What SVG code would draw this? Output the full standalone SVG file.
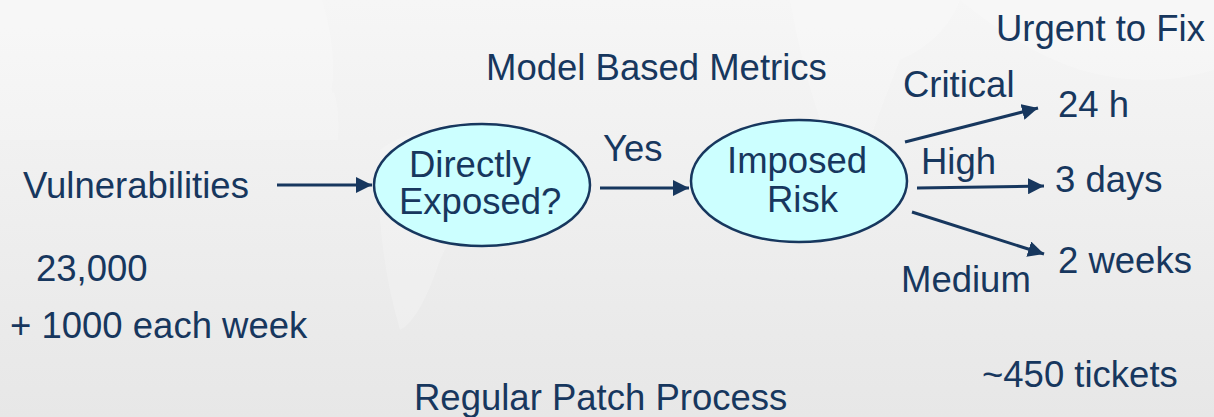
<svg xmlns="http://www.w3.org/2000/svg" width="1214" height="417" viewBox="0 0 1214 417">
  <defs>
    <linearGradient id="bg" x1="0" y1="0" x2="0" y2="1">
      <stop offset="0" stop-color="#f6f6f6"/>
      <stop offset="1" stop-color="#e7e7e7"/>
    </linearGradient>
    <marker id="arrow" viewBox="0 0 16 16" refX="16" refY="8" markerWidth="16" markerHeight="16" markerUnits="userSpaceOnUse" orient="auto">
      <path d="M0,0 L16,8 L0,16 Z" fill="#17375e"/>
    </marker>
    <style>
      text { font-family: "Liberation Sans", Arial, sans-serif; font-size: 36.5px; fill: #17375e; }
      .node ellipse { fill: #ccffff; stroke: #17375e; stroke-width: 2.5; }
      .edge { stroke: #17375e; stroke-width: 3; fill: none; marker-end: url(#arrow); }
      .land { fill: #ffffff; opacity: 0.2; }
    </style>
  </defs>

  <!-- backdrop with faint world map -->
  <rect x="0" y="0" width="1214" height="417" fill="url(#bg)"/>
  <g id="map">
    <path class="land" d="M0,0 L322,0 Q335,40 333,80 Q330,95 334,92 Q340,110 338,140 L0,140 Z"/>
    <path class="land" d="M380,150 Q420,120 460,140 Q470,200 440,260 Q420,320 400,330 Q385,280 380,220 Z"/>
    <path class="land" d="M790,0 L960,0 Q945,40 900,60 Q880,110 870,140 Q840,150 820,120 Q800,60 790,0 Z"/>
    <path class="land" d="M960,0 L1214,0 L1214,70 Q1150,90 1080,70 Q1020,50 960,0 Z"/>
  </g>

  <!-- connectors -->
  <g id="connectors">
    <line class="edge" x1="277" y1="185" x2="372" y2="185"/>
    <line class="edge" x1="600" y1="188" x2="689" y2="188"/>
    <line class="edge" x1="905" y1="142" x2="1038" y2="108"/>
    <line class="edge" x1="917" y1="188" x2="1044" y2="186"/>
    <line class="edge" x1="912" y1="212" x2="1044" y2="254"/>
  </g>

  <!-- nodes -->
  <g id="node-exposed" class="node">
    <ellipse cx="482" cy="185" rx="108" ry="61"/>
    <text x="409" y="177">Directly</text>
    <text x="399" y="214">Exposed?</text>
  </g>
  <g id="node-risk" class="node">
    <ellipse cx="799" cy="181" rx="108" ry="61"/>
    <text x="727" y="173">Imposed</text>
    <text x="767" y="212">Risk</text>
  </g>

  <!-- labels -->
  <g id="labels">
    <text x="23" y="198">Vulnerabilities</text>
    <text x="36" y="281">23,000</text>
    <text x="10" y="338">+ 1000 each week</text>
    <text x="486" y="80">Model Based Metrics</text>
    <text x="996" y="41">Urgent to Fix</text>
    <text x="603" y="161">Yes</text>
    <text x="903" y="97">Critical</text>
    <text x="1058" y="117">24 h</text>
    <text x="921" y="174">High</text>
    <text x="1055" y="192">3 days</text>
    <text x="1058" y="273">2 weeks</text>
    <text x="901" y="292">Medium</text>
    <text x="982" y="387">~450 tickets</text>
    <text x="414" y="410">Regular Patch Process</text>
  </g>
</svg>
